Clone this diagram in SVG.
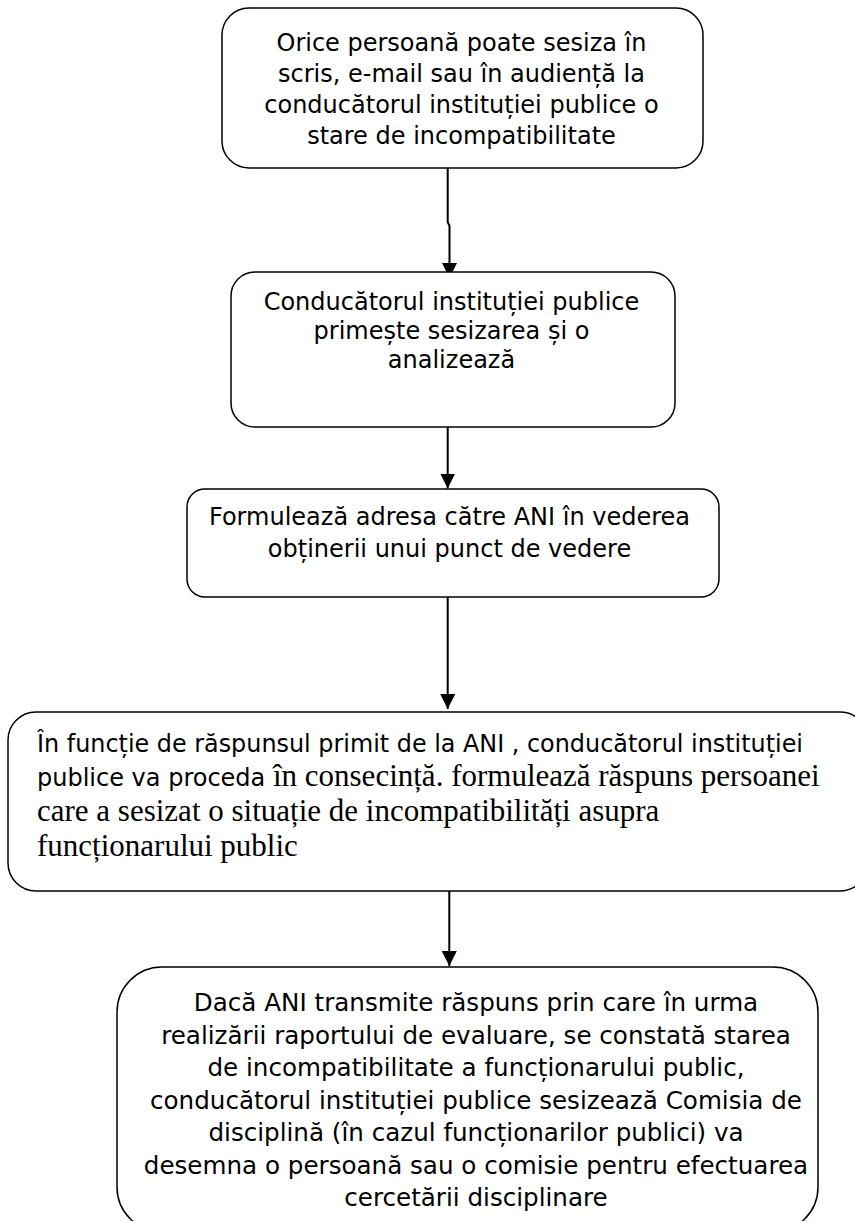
<svg xmlns="http://www.w3.org/2000/svg" width="855" height="1221" viewBox="0 0 855 1221">
<defs>
<style>
.box{fill:#fff;stroke:#000;stroke-width:1.5}
.t{font-family:"DejaVu Sans","Liberation Sans",sans-serif;font-size:24px;fill:#000;text-anchor:middle}
.t5{font-family:"DejaVu Sans","Liberation Sans",sans-serif;font-size:24.6px;fill:#000;text-anchor:middle}
.tl{font-family:"DejaVu Sans","Liberation Sans",sans-serif;font-size:24px;fill:#000}
.sf{font-family:"Liberation Serif","Times New Roman",serif;font-size:31px;fill:#000}
.con{fill:none;stroke:#000;stroke-width:2}
</style>
<marker id="ah" viewBox="0 0 14 15" refX="15" refY="7.5" markerWidth="14" markerHeight="15" markerUnits="userSpaceOnUse" orient="auto">
<path d="M0,0 L15,7.5 L0,15 z" fill="#000"/>
</marker>
</defs>
<rect width="855" height="1221" fill="#fff"/>
<g id="connectors">
<path class="con" d="M447.7,168 V222 L449.5,226 V278" marker-end="url(#ah)"/>
<path class="con" d="M447.7,427 V488.5" marker-end="url(#ah)"/>
<path class="con" d="M447.7,597 V709" marker-end="url(#ah)"/>
<path class="con" d="M449.3,891 V966" marker-end="url(#ah)"/>
</g>
<g id="node1">
<rect class="box" x="222" y="8" width="481" height="160" rx="27"/>
<text class="t"><tspan x="461.5" y="51">Orice persoană poate sesiza în</tspan><tspan x="461.5" y="82">scris, e-mail sau în audiență la</tspan><tspan x="461.5" y="113">conducătorul instituției publice o</tspan><tspan x="461.5" y="144">stare de incompatibilitate</tspan></text>
</g>
<g id="node2">
<rect class="box" x="231" y="272" width="444" height="155" rx="24"/>
<text class="t"><tspan x="451.5" y="310">Conducătorul instituției publice</tspan><tspan x="451.5" y="339">primește sesizarea și o</tspan><tspan x="451.5" y="368">analizează</tspan></text>
</g>
<g id="node3">
<rect class="box" x="187" y="489" width="532" height="108" rx="18"/>
<text class="t"><tspan x="449.5" y="525">Formulează adresa către ANI în vederea</tspan><tspan x="449.5" y="557">obținerii unui punct de vedere</tspan></text>
</g>
<g id="node4">
<rect class="box" x="8" y="712" width="860" height="179" rx="28"/>
<text class="tl" x="37" y="752" textLength="766" lengthAdjust="spacingAndGlyphs">În funcție de răspunsul primit de la ANI , conducătorul instituției</text>
<text x="37" y="786"><tspan class="tl">publice va proceda </tspan><tspan class="sf">în consecință. formulează răspuns persoanei</tspan></text>
<text class="sf" x="37" y="821">care a sesizat o situație de incompatibilități asupra</text>
<text class="sf" x="37" y="856">funcționarului public</text>
</g>
<g id="node5">
<rect class="box" x="117" y="967" width="701" height="265" rx="45"/>
<text class="t5"><tspan x="476" y="1011">Dacă ANI transmite răspuns prin care în urma</tspan><tspan x="476" y="1043.5">realizării raportului de evaluare, se constată starea</tspan><tspan x="476" y="1076">de incompatibilitate a funcționarului public,</tspan><tspan x="476" y="1108.5">conducătorul instituției publice sesizează Comisia de</tspan><tspan x="476" y="1141">disciplină (în cazul funcționarilor publici) va</tspan><tspan x="476" y="1173.5">desemna o persoană sau o comisie pentru efectuarea</tspan><tspan x="476" y="1206">cercetării disciplinare</tspan></text>
</g>
</svg>
